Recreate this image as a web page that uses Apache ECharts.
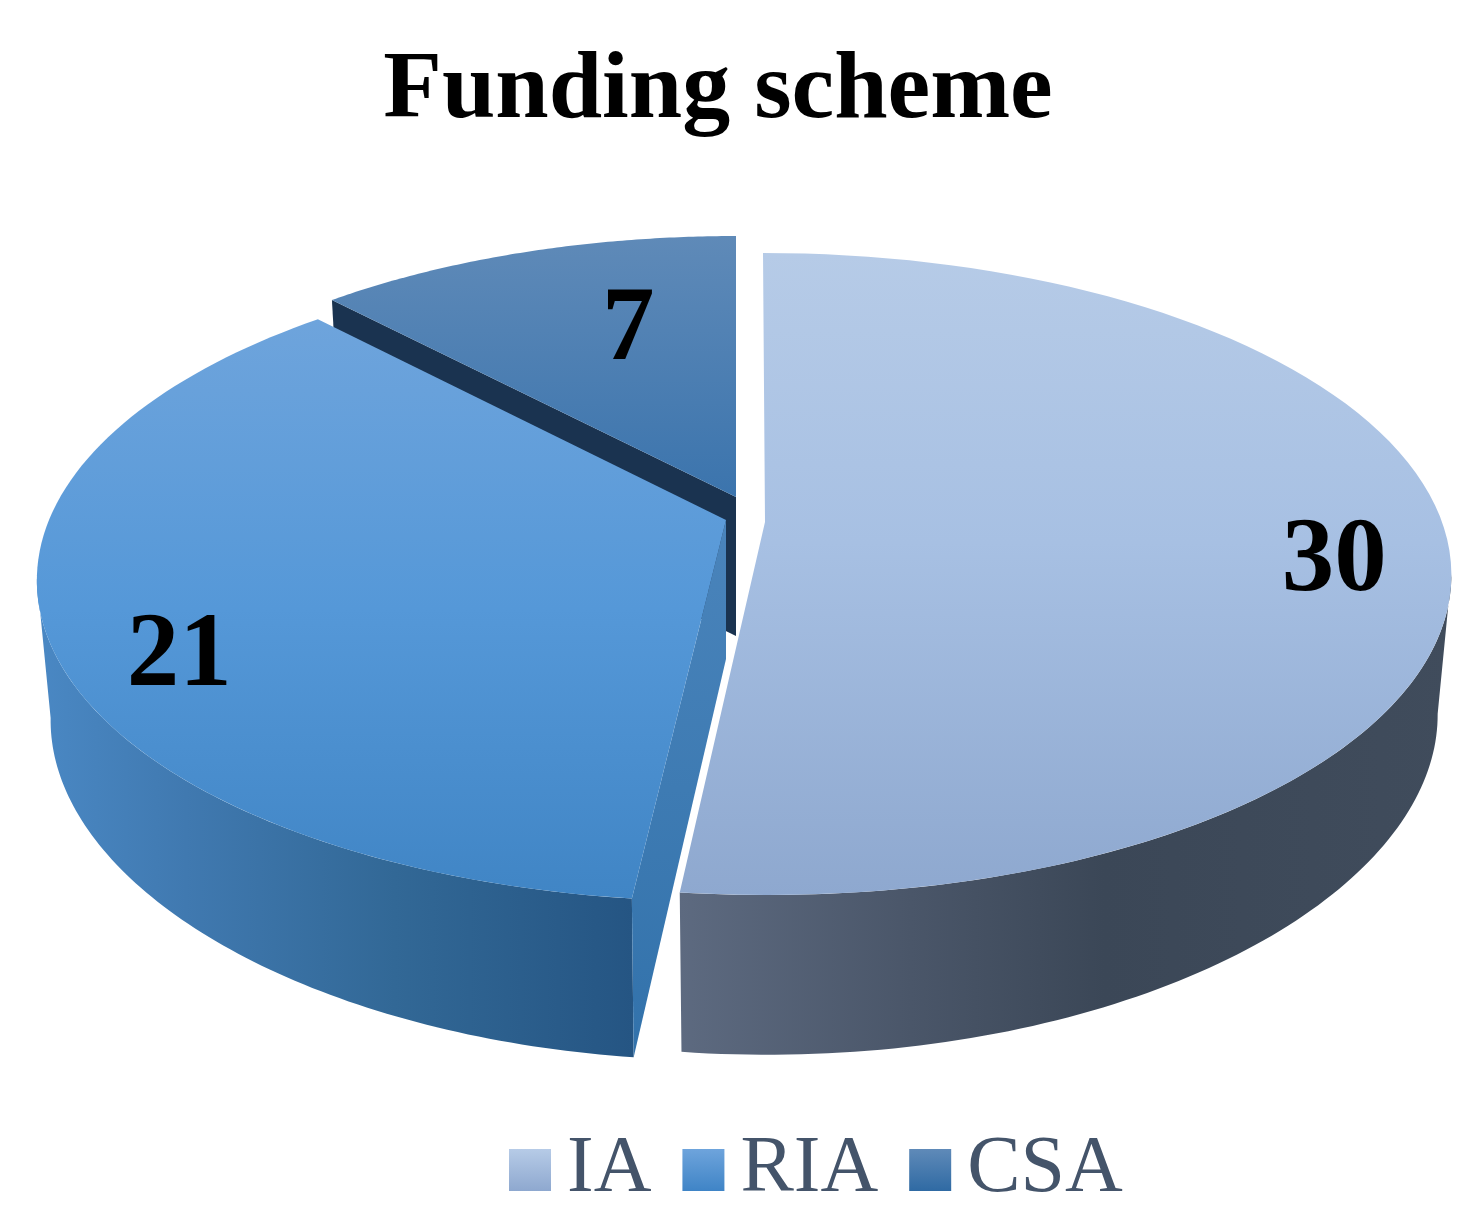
<!DOCTYPE html>
<html>
<head>
<meta charset="utf-8">
<style>html,body{margin:0;padding:0;background:#fff}#chart{width:1484px;height:1226px}</style>
<script src="https://cdn.jsdelivr.net/npm/echarts@6/dist/echarts.min.js"></script>
</head>
<body>
<div id="chart"></div>
<script>
// ---- data ----
const chartTitle = 'Funding scheme';
const categories = ['IA', 'RIA', 'CSA'];
const fundingCounts = [30, 21, 7];

// ---- styling / 3D projection (no data) ----
const RIM_A = 677, RIM_B = 312.6, BASE_B = 315, BASE_SCALE = 0.98, DEPTH = 139, STEPS = 90;
const sliceLayouts = [
  { ax: 765, ay: 522, scale: 1,    k: 0.162, kBase: 0.20,  shear: 2,  labelR: 0.833, labelTurn: 5.7 },
  { ax: 726, ay: 520, scale: 1,    k: 0.18,  kBase: 0.215, shear: -5, labelR: 0.85,  labelTurn: -10.1 },
  { ax: 736, ay: 497, scale: 0.97, k: 0.162, kBase: 0.20,  shear: 0,  labelR: 0.625, labelTurn: 5 }
];
const grad = (x0, y0, x1, y1, stops) => new echarts.graphic.LinearGradient(x0, y0, x1, y1,
  stops.map(c => ({ offset: c[0], color: c[1] })));
const topColors = [
  [[0, '#b6cbe7'], [0.45, '#a7c0e3'], [1, '#8ea8cf']],
  [[0, '#6ea4dc'], [0.5, '#5598d8'], [1, '#4085c5']],
  [[0, '#5f8ab8'], [1, '#3b74ad']]
];
const sideColors = [
  [[0, '#5d6a80'], [0.3, '#4a5669'], [0.55, '#3b4757'], [1, '#404c5c']],
  [[0, '#4a88c4'], [0.25, '#4079b0'], [0.6, '#326896'], [1, '#255583']],
  [[0, '#2c5a88'], [1, '#2c5a88']]
];
const cutColors = [
  null,
  [[0, '#4a84bb'], [1, '#3272ab']],
  [[0, '#1a3350'], [1, '#1a3350']]
];
const legendColors = [
  [[0, '#b6cbe7'], [1, '#8ea8cf']],
  [[0, '#6ea4dc'], [1, '#3f84c6']],
  [[0, '#5f8ab8'], [1, '#2f6aa3']]
];

const total = fundingCounts.reduce((a, b) => a + b, 0);
const angleOf = v => echarts.number.linearMap(v, [0, total], [0, 360]);

function rimPoint(l, deg, r) {
  const t = deg * Math.PI / 180, u = Math.sin(t) * r, v = -Math.cos(t) * r;
  const d = 1 - l.k * v;
  return [l.ax + l.scale * RIM_A * u / d + l.shear * v, l.ay + l.scale * RIM_B * v / d];
}
function basePoint(l, deg) {
  const t = deg * Math.PI / 180, u = Math.sin(t), v = -Math.cos(t);
  return [l.ax + BASE_SCALE * l.scale * RIM_A * u / (1 - l.k * v) + l.shear * v,
          l.ay + DEPTH + l.scale * BASE_B * v / (1 - l.kBase * v)];
}
function arc(fn, a0, a1) {
  const pts = [];
  for (let i = 0; i <= STEPS; i++) pts.push(fn(a0 + (a1 - a0) * i / STEPS));
  return pts;
}

function makeRender(idx) {
  return function (params, api) {
    const value = api.value(0);
    const before = fundingCounts.slice(0, idx).reduce((a, b) => a + b, 0);
    const a0 = angleOf(before), a1 = angleOf(before + value);
    const l = sliceLayouts[idx];
    const topArc = arc(d => rimPoint(l, d, 1), a0, a1);
    const apexTop = [l.ax, l.ay], apexBase = [l.ax, l.ay + DEPTH];
    const children = [];
    // outer wall: only the part facing the viewer, bounded by the silhouette ruling
    const tangent = Math.acos(-l.k) * 180 / Math.PI;
    const s0 = Math.max(a0, tangent), s1 = Math.min(a1, 360 - tangent);
    if (s1 > s0) {
      const wallTop = arc(d => rimPoint(l, d, 1), s0, s1);
      const wallBase = arc(d => basePoint(l, d), s0, s1);
      children.push({
        type: 'polygon',
        shape: { points: wallTop.concat(wallBase.reverse()) },
        style: { fill: grad(0, 0, 1, 0, sideColors[idx]) }
      });
    }
    if (cutColors[idx]) {
      children.push({
        type: 'polygon',
        shape: { points: [apexTop, topArc[0], basePoint(l, a0), apexBase] },
        style: { fill: grad(0, 0, 0, 1, cutColors[idx]) }
      });
    }
    children.push({
      type: 'polygon',
      shape: { points: [apexTop].concat(topArc) },
      style: { fill: grad(0, 0, 0, 1, topColors[idx]) }
    });
    const lp = rimPoint(l, (a0 + a1) / 2 + l.labelTurn, l.labelR);
    children.push({
      type: 'text',
      style: {
        text: String(value), x: lp[0], y: lp[1], align: 'center', verticalAlign: 'middle',
        font: 'bold 105px "Liberation Serif"', fill: '#000'
      }
    });
    return { type: 'group', children };
  };
}

const chart = echarts.init(document.getElementById('chart'), null, { renderer: 'canvas' });
chart.setOption({
  backgroundColor: '#fff',
  animation: false,
  title: {
    text: chartTitle, left: 713, top: 39, textAlign: 'center',
    textStyle: { fontFamily: 'Liberation Serif', fontWeight: 'bold', fontSize: 96, color: '#000' }
  },
  legend: {
    left: 504, top: 1125, icon: 'rect', itemWidth: 42, itemHeight: 42, itemGap: 31,
    selectedMode: false,
    textStyle: { fontFamily: 'Liberation Serif', fontSize: 80, color: '#44546a', padding: [0, 0, 0, 11] },
    data: categories.map((name, i) => ({ name, itemStyle: { color: grad(0, 0, 0, 1, legendColors[i]) } }))
  },
  series: categories.map((name, i) => ({
    type: 'custom',
    name,
    coordinateSystem: 'none',
    z: 3 - i,
    silent: true,
    itemStyle: { color: topColors[i][0][1] },
    renderItem: makeRender(i),
    data: [[fundingCounts[i]]]
  }))
});
</script>
</body>
</html>
